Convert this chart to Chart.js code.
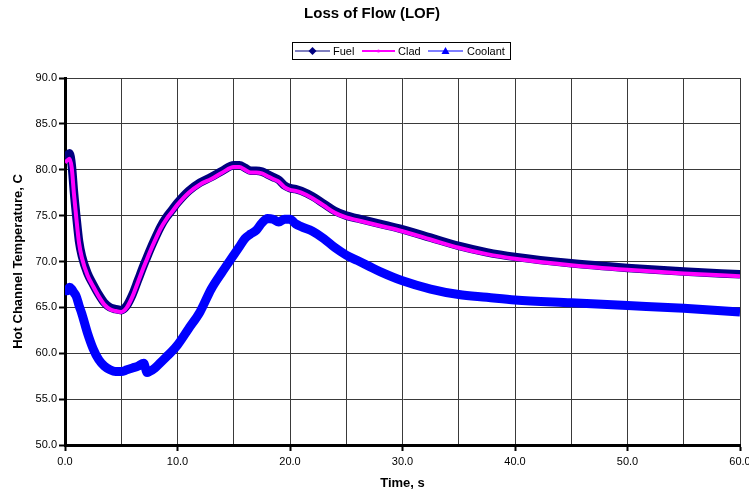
<!DOCTYPE html>
<html>
<head>
<meta charset="utf-8">
<script src="https://cdn.jsdelivr.net/npm/chart.js@4.4.0/dist/chart.umd.min.js"></script>
<style>
html,body{margin:0;padding:0;background:#fff;}
canvas{display:block;}
</style>
</head>
<body>
<canvas id="c" width="749" height="494"></canvas>
<script>
const chartTitle = "Loss of Flow (LOF)";
const xTitle = "Time, s";
const yTitle = "Hot Channel Temperature, C";
const seriesNames = ["Fuel", "Clad", "Coolant"];

const time = [0,0.2,0.4,0.6,0.8,1.0,1.25,1.5,2,2.5,3,3.5,4,4.5,5,5.5,6,6.5,7.0,7.3,7.5,8,8.5,9,9.5,10,11,12,13,14,15,15.5,16,16.5,17,17.5,18,18.5,19,19.5,20,20.5,21,22,23,24,25,26,27,28,30,32.5,35,37.5,40,45,50,55,60];

const fuel = [81.0,81.5,81.8,80.5,77.5,75.0,72.2,70.6,68.7,67.5,66.4,65.5,65.0,64.8,64.7,65.2,66.4,68.0,69.6,70.5,71.1,72.5,73.8,74.8,75.6,76.4,77.7,78.6,79.2,79.9,80.5,80.5,80.2,79.9,79.9,79.8,79.5,79.2,78.9,78.3,78.0,77.9,77.7,77.1,76.3,75.5,75.0,74.7,74.4,74.1,73.5,72.6,71.7,71.0,70.5,69.8,69.3,68.9,68.6];

const clad = [80.8,81.0,81.2,80.2,77.3,74.8,72.0,70.4,68.5,67.3,66.2,65.3,64.8,64.6,64.5,65.0,66.2,67.8,69.4,70.3,70.9,72.3,73.6,74.6,75.4,76.2,77.5,78.4,79.0,79.7,80.3,80.3,80.0,79.7,79.7,79.6,79.3,79.0,78.7,78.1,77.8,77.7,77.5,76.9,76.1,75.3,74.8,74.5,74.2,73.9,73.3,72.4,71.5,70.8,70.3,69.6,69.1,68.7,68.4];

const coolant = [66.8,66.8,67.2,67.0,66.6,66.2,65.2,64.3,62.2,60.5,59.3,58.6,58.2,58.0,58.0,58.2,58.4,58.6,58.9,57.9,58.0,58.4,59.0,59.6,60.2,60.9,62.7,64.5,67.0,68.9,70.7,71.6,72.5,73.0,73.4,74.2,74.7,74.6,74.3,74.6,74.6,74.1,73.8,73.3,72.5,71.5,70.7,70.1,69.5,68.9,67.9,67.0,66.4,66.1,65.8,65.5,65.2,64.9,64.5];

const xTickLabels = ["0.0","10.0","20.0","30.0","40.0","50.0","60.0"];
const yTickLabels = ["50.0","55.0","60.0","65.0","70.0","75.0","80.0","85.0","90.0"];

const FONT = "'Liberation Sans', Arial, sans-serif";

function pts(vals){ return time.map((t,i)=>({x:t,y:vals[i]})); }

const overlay = {
  id: 'overlay',
  afterDraw(chart){
    const ctx = chart.ctx;
    const a = chart.chartArea;
    ctx.save();
    ctx.fillStyle = '#000';
    ctx.textAlign = 'center';
    ctx.textBaseline = 'middle';
    ctx.font = "bold 15px " + FONT;
    ctx.fillText(chartTitle, 372, 14);
    ctx.font = "bold 13px " + FONT;
    ctx.fillText(xTitle, (a.left + a.right)/2, 483);
    ctx.save();
    ctx.translate(18, (a.top + a.bottom)/2);
    ctx.rotate(-Math.PI/2);
    ctx.fillText(yTitle, 0, 0);
    ctx.restore();
    // legend
    const lx = 292.5, ly = 42.5, lw = 218, lh = 17;
    ctx.strokeStyle = '#000';
    ctx.lineWidth = 1;
    ctx.strokeRect(lx, ly, lw, lh);
    const cy = 51;
    const items = [
      {x0:295, x1:330, tx:333, color:'#000080', marker:'diamond'},
      {x0:362, x1:395, tx:398, color:'#FF00FF', marker:'dot'},
      {x0:428, x1:463, tx:467, color:'#0000FF', marker:'triangle'}
    ];
    ctx.font = "11px " + FONT;
    ctx.textAlign = 'left';
    items.forEach((it, i) => {
      ctx.strokeStyle = it.color;
      ctx.lineWidth = (it.marker === 'dot') ? 2 : 1.2;
      ctx.beginPath();
      ctx.moveTo(it.x0, cy); ctx.lineTo(it.x1, cy);
      ctx.stroke();
      const mx = (it.x0 + it.x1)/2;
      ctx.fillStyle = it.color;
      ctx.beginPath();
      if (it.marker === 'diamond') {
        ctx.moveTo(mx, cy-4); ctx.lineTo(mx+4, cy); ctx.lineTo(mx, cy+4); ctx.lineTo(mx-4, cy); ctx.closePath();
      } else if (it.marker === 'triangle') {
        ctx.moveTo(mx, cy-4); ctx.lineTo(mx+4, cy+3); ctx.lineTo(mx-4, cy+3); ctx.closePath();
      } else {
        ctx.arc(mx, cy, 1.6, 0, Math.PI*2);
      }
      ctx.fill();
      ctx.fillStyle = '#000';
      ctx.fillText(chart.data.datasets[i].label, it.tx, cy + 0.5);
    });
    ctx.restore();
  }
};

new Chart(document.getElementById('c'), {
  type: 'line',
  data: {
    datasets: [
      {label: seriesNames[0], data: pts(fuel), borderColor: '#000080', borderWidth: 8.5, pointRadius: 0, order: 1, cubicInterpolationMode: 'monotone'},
      {label: seriesNames[1], data: pts(clad), borderColor: '#FF00FF', borderWidth: 4, pointRadius: 0, order: 0, cubicInterpolationMode: 'monotone'},
      {label: seriesNames[2], data: pts(coolant), borderColor: '#0000FF', borderWidth: 9, pointRadius: 0, order: 2, cubicInterpolationMode: 'monotone'}
    ]
  },
  options: {
    responsive: false,
    animation: false,
    devicePixelRatio: 1,
    layout: {padding: {top: 78, right: 9, left: 0, bottom: 0}},
    plugins: {legend: {display: false}, title: {display: false}, tooltip: {enabled: false}},
    scales: {
      x: {
        type: 'linear', min: 0, max: 60,
        afterFit: s => { s.height = 49; s.paddingRight = 0; s.paddingLeft = 0; },
        border: {color: '#000', width: 3},
        grid: {color: '#3a3a3a', lineWidth: 1, tickLength: 6, tickWidth: 2,
               tickColor: c => (c.tick && c.tick.value % 10 === 0) ? '#000' : 'rgba(0,0,0,0)'},
        ticks: {stepSize: 5, padding: 4, maxRotation: 0, autoSkip: false, color: '#000',
                font: {family: FONT, size: 11},
                callback: v => (v % 10 === 0) ? xTickLabels[v/10] : ''}
      },
      y: {
        min: 50, max: 90,
        afterFit: s => { s.width = 65; },
        border: {color: '#000', width: 3},
        grid: {color: '#3a3a3a', lineWidth: 1, tickLength: 6, tickWidth: 2, tickColor: '#000'},
        ticks: {stepSize: 5, padding: 2, color: '#000', font: {family: FONT, size: 11},
                callback: v => yTickLabels[(v-50)/5]}
      }
    }
  },
  plugins: [overlay]
});
</script>
</body>
</html>
